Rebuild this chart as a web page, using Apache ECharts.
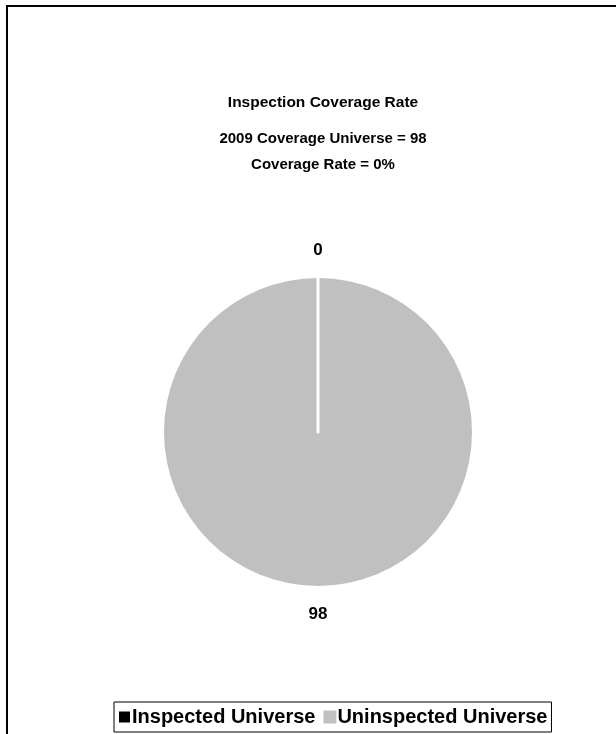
<!DOCTYPE html>
<html>
<head>
<meta charset="utf-8">
<script src="https://cdn.jsdelivr.net/npm/echarts@6/dist/echarts.min.js"></script>
<style>
html,body{margin:0;padding:0;background:#fff;}
#chart{width:616px;height:734px;}
</style>
</head>
<body>
<div id="chart"></div>
<script>
const titleText = 'Inspection Coverage Rate';
const subtitleLines = ['2009 Coverage Universe = 98', 'Coverage Rate = 0%'];
const categories = ['Inspected Universe', 'Uninspected Universe'];
const values = [0, 98];
const colors = ['#000000', '#C0C0C0'];

const FONT = '"Liberation Sans", Arial, sans-serif';
const chart = echarts.init(document.getElementById('chart'), null, {renderer: 'canvas'});

// drawing order: uninspected first so the zero-width slice outline sits on top
const order = [1, 0];
const pieData = order.map(i => ({
  name: categories[i],
  value: values[i],
  itemStyle: i === 0
    ? {color: colors[i], borderColor: '#ffffff', borderWidth: 3}
    : {color: colors[i], borderWidth: 0}
}));

chart.setOption({
  animation: false,
  backgroundColor: '#ffffff',
  graphic: [{
    type: 'rect',
    shape: {x: 7, y: 6, width: 700, height: 800},
    style: {fill: 'none', stroke: '#000', lineWidth: 2},
    silent: true, z: 0
  }],
  title: [{
    text: titleText,
    left: 318, top: 90, textAlign: 'center',
    textStyle: {fontFamily: FONT, fontWeight: 'bold', fontSize: 15.5, color: '#000'}
  }, {
    text: subtitleLines.join('\n'),
    left: 318, top: 121, textAlign: 'center',
    textStyle: {fontFamily: FONT, fontWeight: 'bold', fontSize: 15, color: '#000', lineHeight: 26}
  }],
  legend: {
    data: categories,
    bottom: 2, left: 114,
    orient: 'horizontal',
    icon: 'rect',
    itemWidth: 13, itemHeight: 13, itemGap: 8,
    borderColor: '#000', borderWidth: 1,
    padding: [5, 4, 5, 3],
    textStyle: {fontFamily: FONT, fontWeight: 'bold', fontSize: 20, color: '#000', padding: [0, 0, 0, -4]}
  },
  series: [{
    type: 'pie',
    center: [318, 432],
    radius: 154,
    startAngle: 90,
    clockwise: true,
    minAngle: 0,
    avoidLabelOverlap: false,
    data: pieData,
    label: {
      show: true,
      position: 'outside',
      formatter: '{c}',
      fontFamily: FONT, fontWeight: 'bold', fontSize: 17, color: '#000'
    },
    labelLine: {show: false, length: 28, length2: 0},
    labelLayout: function (p) {
      return {x: p.rect.x + p.rect.width / 2, align: 'center', verticalAlign: 'middle'};
    },
    emphasis: {disabled: true}
  }]
});
</script>
</body>
</html>
